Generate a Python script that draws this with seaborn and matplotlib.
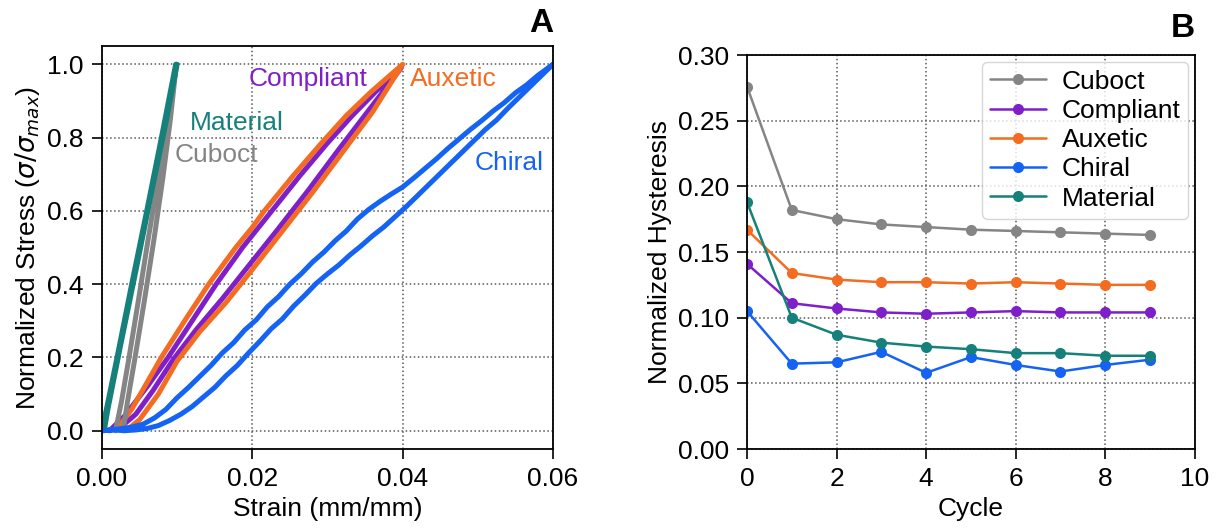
import numpy as np
import matplotlib
matplotlib.use('Agg')
import matplotlib.pyplot as plt
import pandas as pd
import seaborn as sns

# colours
c_cuboct = '#858585'
c_compliant = '#7f1fc9'
c_auxetic = '#f36c21'
c_chiral = '#1563f2'
c_material = '#16807a'

# Panel A: stress-strain loops (upper path up to the peak, then lower path back down)
material_x = [0.0000, 0.0020, 0.0040, 0.0060, 0.0080, 0.0098, 0.0100, 0.0085, 0.0065, 0.0045, 0.0025, 0.0008, 0.0003]
material_y = [0.000, 0.200, 0.405, 0.605, 0.810, 1.000, 1.000, 0.840, 0.640, 0.435, 0.235, 0.060, 0.000]

cuboct_x = [0.0018, 0.0026, 0.0036, 0.0048, 0.0062, 0.0076, 0.0088, 0.0099,
            0.0099, 0.0091, 0.0081, 0.0069, 0.0056, 0.0044, 0.0034, 0.0028]
cuboct_y = [0.000, 0.080, 0.200, 0.350, 0.530, 0.700, 0.850, 1.000,
            1.000, 0.850, 0.690, 0.520, 0.350, 0.200, 0.080, 0.000]

compliant_x = [0.0010, 0.0030, 0.0060, 0.0088, 0.0120, 0.0152, 0.0187, 0.0226, 0.0263, 0.0300, 0.0333, 0.0364, 0.0398,
               0.0398, 0.0355, 0.0314, 0.0274, 0.0234, 0.0195, 0.0160, 0.0125, 0.0095, 0.0068, 0.0045, 0.0025, 0.0010]
compliant_y = [0.000, 0.040, 0.120, 0.200, 0.300, 0.400, 0.500, 0.600, 0.695, 0.785, 0.860, 0.925, 0.990,
               0.990, 0.875, 0.765, 0.655, 0.550, 0.450, 0.360, 0.275, 0.195, 0.110, 0.045, 0.010, 0.000]

auxetic_x = [0.0018, 0.0040, 0.0079, 0.0110, 0.0142, 0.0178, 0.0200, 0.0216, 0.0254, 0.0292, 0.0325, 0.0358, 0.0400,
             0.0400, 0.0360, 0.0320, 0.0280, 0.0240, 0.0200, 0.0165, 0.0130, 0.0100, 0.0075, 0.0050, 0.0032]
auxetic_y = [0.000, 0.060, 0.200, 0.300, 0.400, 0.500, 0.555, 0.600, 0.695, 0.785, 0.860, 0.925, 1.000,
             1.000, 0.870, 0.760, 0.650, 0.545, 0.440, 0.350, 0.270, 0.190, 0.100, 0.030, 0.000]

chiral_x = [0.0000, 0.0020, 0.0040, 0.0055, 0.0070, 0.0085, 0.0100, 0.0115, 0.0130, 0.0145, 0.0160, 0.0175,
            0.0190, 0.0205, 0.0220, 0.0235, 0.0250, 0.0265, 0.0280, 0.0295, 0.0310, 0.0325, 0.0340, 0.0355,
            0.0370, 0.0385, 0.0400, 0.0415, 0.0430, 0.0445, 0.0460, 0.0475, 0.0490, 0.0505, 0.0520, 0.0535,
            0.0550, 0.0565, 0.0580, 0.0600,
            0.0600, 0.0585, 0.0570, 0.0555, 0.0540, 0.0525, 0.0510, 0.0495, 0.0480, 0.0465, 0.0450, 0.0435,
            0.0420, 0.0405, 0.0390, 0.0375, 0.0360, 0.0345, 0.0330, 0.0315, 0.0300, 0.0285, 0.0270, 0.0255,
            0.0240, 0.0225, 0.0210, 0.0195, 0.0180, 0.0165, 0.0150, 0.0135, 0.0120, 0.0105, 0.0090, 0.0075,
            0.0060, 0.0045, 0.0030, 0.0015, 0.0000]
chiral_y = [0.000, 0.004, 0.010, 0.018, 0.035, 0.058, 0.090, 0.118, 0.148, 0.178, 0.212, 0.240,
            0.275, 0.302, 0.338, 0.366, 0.400, 0.428, 0.460, 0.487, 0.518, 0.545, 0.578, 0.604,
            0.626, 0.646, 0.665, 0.690, 0.716, 0.742, 0.770, 0.796, 0.822, 0.846, 0.872, 0.895,
            0.922, 0.944, 0.970, 1.000,
            1.000, 0.970, 0.940, 0.910, 0.880, 0.848, 0.822, 0.792, 0.762, 0.732, 0.702, 0.672,
            0.642, 0.612, 0.584, 0.556, 0.532, 0.505, 0.480, 0.452, 0.428, 0.402, 0.370, 0.340,
            0.305, 0.278, 0.244, 0.212, 0.178, 0.150, 0.118, 0.092, 0.066, 0.045, 0.028, 0.014,
            0.006, 0.002, 0.000, 0.002, 0.000]

# Panel B: hysteresis per cycle
cycles = [0, 1, 2, 3, 4, 5, 6, 7, 8, 9]
hyst_cuboct = [0.276, 0.182, 0.175, 0.171, 0.169, 0.167, 0.166, 0.165, 0.164, 0.163]
hyst_compliant = [0.141, 0.111, 0.107, 0.104, 0.103, 0.104, 0.105, 0.104, 0.104, 0.104]
hyst_auxetic = [0.167, 0.134, 0.129, 0.127, 0.127, 0.126, 0.127, 0.126, 0.125, 0.125]
hyst_chiral = [0.105, 0.065, 0.066, 0.074, 0.058, 0.070, 0.064, 0.059, 0.064, 0.068]
hyst_material = [0.188, 0.100, 0.087, 0.081, 0.078, 0.076, 0.073, 0.073, 0.071, 0.071]

sns.set_style('ticks')
plt.rcParams['font.family'] = ['Liberation Sans', 'DejaVu Sans']
plt.rcParams['mathtext.fontset'] = 'dejavusans'
for k in ['text.color', 'axes.labelcolor', 'xtick.color', 'ytick.color']:
    plt.rcParams[k] = 'black'
fs = 19

fig = plt.figure(figsize=(12.17, 5.31), dpi=100)
axA = fig.add_axes([0.0838, 0.1544, 0.3706, 0.759])
axB = fig.add_axes([0.6138, 0.1544, 0.368, 0.742])

# ---- Panel A
loops = [
    (compliant_x, compliant_y, c_compliant),
    (auxetic_x, auxetic_y, c_auxetic),
    (cuboct_x, cuboct_y, c_cuboct),
    (material_x, material_y, c_material),
    (chiral_x, chiral_y, c_chiral),
]
for xs, ys, col in loops:
    sns.lineplot(x=xs, y=ys, sort=False, estimator=None, color=col, lw=3.6, ax=axA)

axA.text(0.0195, 0.96, 'Compliant', color=c_compliant, fontsize=fs, va='center')
axA.text(0.0410, 0.96, 'Auxetic', color=c_auxetic, fontsize=fs, va='center')
axA.text(0.0117, 0.84, 'Material', color=c_material, fontsize=fs, va='center')
axA.text(0.0097, 0.753, 'Cuboct', color=c_cuboct, fontsize=fs, va='center')
axA.text(0.0496, 0.73, 'Chiral', color=c_chiral, fontsize=fs, va='center')

axA.set_xlim(0, 0.06)
axA.set_ylim(-0.05, 1.05)
axA.set_xticks([0.0, 0.02, 0.04, 0.06])
axA.set_xticklabels(['0.00', '0.02', '0.04', '0.06'])
axA.set_yticks([0.0, 0.2, 0.4, 0.6, 0.8, 1.0])
axA.set_yticklabels(['0.0', '0.2', '0.4', '0.6', '0.8', '1.0'])
axA.set_xlabel('Strain (mm/mm)', fontsize=fs)
axA.set_ylabel(r'Normalized Stress ($\sigma/\sigma_{max}$)', fontsize=fs)
axA.text(1.0, 1.057, 'A', transform=axA.transAxes, ha='right', va='center',
         fontsize=24, fontweight='bold')

# ---- Panel B
series = [
    ('Cuboct', hyst_cuboct, c_cuboct),
    ('Compliant', hyst_compliant, c_compliant),
    ('Auxetic', hyst_auxetic, c_auxetic),
    ('Chiral', hyst_chiral, c_chiral),
    ('Material', hyst_material, c_material),
]
for name, vals, col in series:
    sns.lineplot(x=cycles, y=vals, color=col, marker='o', markersize=8,
                 markeredgewidth=0, lw=1.8, label=name, ax=axB)

axB.set_xlim(0, 10)
axB.set_ylim(0, 0.30)
axB.set_xticks([0, 2, 4, 6, 8, 10])
axB.set_yticks([0.0, 0.05, 0.10, 0.15, 0.20, 0.25, 0.30])
axB.set_yticklabels(['0.00', '0.05', '0.10', '0.15', '0.20', '0.25', '0.30'])
axB.set_xlabel('Cycle', fontsize=fs)
axB.set_ylabel('Normalized Hysteresis', fontsize=fs)
axB.legend(loc='upper right', fontsize=fs, borderaxespad=0.25, labelspacing=0.2,
           handlelength=2.1, handletextpad=0.6, borderpad=0.3)
axB.text(1.0, 1.0685, 'B', transform=axB.transAxes, ha='right', va='center',
         fontsize=24, fontweight='bold')

for ax in (axA, axB):
    ax.grid(True, ls=':', color='0.35', lw=1.1)
    ax.tick_params(labelsize=fs, length=7, width=1.2, pad=6, color='black')
    for s in ax.spines.values():
        s.set_visible(True)
        s.set_color('black')
        s.set_linewidth(1.3)

fig.savefig('out.png', dpi=100)
